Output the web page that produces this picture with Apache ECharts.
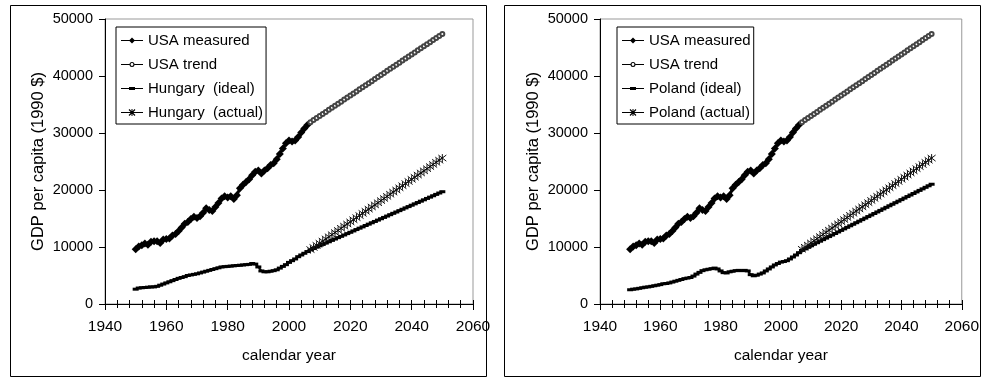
<!DOCTYPE html>
<html>
<head>
<meta charset="utf-8">
<title>GDP per capita</title>
<script src="https://cdn.jsdelivr.net/npm/echarts@6/dist/echarts.min.js"></script>
<style>
  html, body { margin: 0; padding: 0; background: #fff; }
  #gdpCharts { width: 982px; height: 381px; }
</style>
</head>
<body>
<div id="gdpCharts"></div>
<script>
// measured years 1950..2006, projection years 2007..2050
const histStart = 1950
const projStart = 2007

const usaMeasured = [9600, 10100, 10300, 10600, 10400, 10900, 11000, 11000, 10700, 11300,
  11400, 11500, 12000, 12300, 12800, 13400, 14100, 14400, 14900, 15300,
  15100, 15400, 16000, 16800, 16500, 16300, 17000, 17700, 18500, 18900,
  18700, 18900, 18400, 19100, 20300, 20900, 21400, 21900, 22600, 23200,
  23400, 22900, 23400, 23800, 24400, 24700, 25400, 26300, 27300, 28200,
  28700, 28500, 28700, 29300, 30100, 30800, 31400]

const usaTrend = [31900, 32260, 32620, 32980, 33340, 33700, 34060, 34420, 34780, 35140,
  35500, 35860, 36220, 36580, 36940, 37300, 37660, 38020, 38380, 38740,
  39100, 39460, 39820, 40180, 40540, 40900, 41260, 41620, 41980, 42340,
  42700, 43060, 43420, 43780, 44140, 44500, 44860, 45220, 45580, 45940,
  46300, 46660, 47020, 47380]

const hungaryHist = [2600, 2800, 2850, 2900, 2950, 3000, 3000, 3100, 3300, 3500,
  3700, 3900, 4100, 4300, 4500, 4650, 4800, 5000, 5100, 5200,
  5300, 5450, 5600, 5750, 5900, 6050, 6200, 6350, 6500, 6550,
  6600, 6650, 6700, 6750, 6800, 6850, 6900, 6950, 7100, 7000,
  6500, 5800, 5650, 5650, 5750, 5850, 6000, 6300, 6600, 6900,
  7300, 7600, 7900, 8300, 8600, 8900, 9200]

const hungaryIdeal = [9500, 9740, 9970, 10210, 10450, 10690, 10920, 11160, 11400, 11640,
  11870, 12110, 12350, 12580, 12820, 13060, 13300, 13530, 13770, 14010,
  14250, 14480, 14720, 14960, 15190, 15430, 15670, 15910, 16140, 16380,
  16620, 16860, 17090, 17330, 17570, 17800, 18040, 18280, 18520, 18750,
  18990, 19230, 19470, 19700]

const hungaryActual = [9550, 9920, 10300, 10670, 11040, 11420, 11790, 12160, 12540, 12910,
  13280, 13660, 14030, 14400, 14780, 15150, 15520, 15900, 16270, 16640,
  17020, 17390, 17760, 18140, 18510, 18880, 19260, 19630, 20000, 20380,
  20750, 21120, 21500, 21870, 22240, 22620, 22990, 23360, 23740, 24110,
  24480, 24860, 25230, 25600]

const polandHist = [2500, 2600, 2650, 2750, 2850, 2950, 3000, 3100, 3200, 3300,
  3400, 3550, 3600, 3700, 3850, 4000, 4150, 4300, 4450, 4550,
  4650, 4900, 5250, 5550, 5850, 6000, 6100, 6200, 6300, 6150,
  5800, 5500, 5450, 5650, 5750, 5850, 5900, 5850, 5900, 5800,
  5150, 4950, 5050, 5250, 5450, 5800, 6150, 6500, 6850, 7100,
  7350, 7450, 7600, 7900, 8250, 8600, 9000]

const polandIdeal = [9400, 9670, 9940, 10210, 10480, 10750, 11020, 11290, 11560, 11830,
  12100, 12370, 12640, 12910, 13180, 13450, 13720, 13990, 14260, 14530,
  14800, 15070, 15340, 15610, 15880, 16150, 16420, 16690, 16960, 17230,
  17500, 17770, 18040, 18310, 18580, 18850, 19120, 19390, 19660, 19930,
  20200, 20470, 20740, 21010]

const polandActual = [9600, 9970, 10340, 10720, 11090, 11460, 11830, 12200, 12580, 12950,
  13320, 13690, 14060, 14440, 14810, 15180, 15550, 15920, 16300, 16670,
  17040, 17410, 17780, 18160, 18530, 18900, 19270, 19640, 20020, 20390,
  20760, 21130, 21500, 21880, 22250, 22620, 22990, 23360, 23740, 24110,
  24480, 24850, 25220, 25600]

const font = "'Liberation Sans', Arial, sans-serif"

// pair values with their years
function withYears(values, start) {
  return values.map((v, i) => [start + i, v])
}

// legend icons: line + marker, all filled shapes in a 22x8 box
const icons = {
  measured: 'path://M0,3.5h22v1h-22zM11,1L14,4L11,7L8,4z',
  trend: 'path://M0,3.5h8.5v1h-8.5zM13.5,3.5h8.5v1h-8.5zM8.5,4a2.5,2.5 0 1,1 5,0a2.5,2.5 0 1,1 -5,0zM9.6,4a1.4,1.4 0 1,0 2.8,0a1.4,1.4 0 1,0 -2.8,0z',
  ideal: 'path://M0,3.5h22v1h-22zM8,2.5h6v3h-6z',
  actual: 'path://M0,3.5h22v1h-22zM10.5,0.5h1v7h-1zM7.6,1.4L8.4,0.6L14.4,6.6L13.6,7.4zM13.6,0.6L14.4,1.4L8.4,7.4L7.6,6.6z'
}
const asterisk = 'path://M-1,-1L1,1M-1,1L1,-1M0,-1.3L0,1.3'

function legendFor(left, names) {
  const kinds = ['measured', 'trend', 'ideal', 'actual']
  return {
    left: left,
    top: 27,
    orient: 'vertical',
    itemWidth: 22,
    itemHeight: 8,
    itemGap: 7,
    padding: [5, 3, 3, 5],
    borderColor: '#000',
    borderWidth: 1,
    backgroundColor: '#fff',
    selectedMode: false,
    textStyle: { fontFamily: font, fontSize: 15, color: '#000', lineHeight: 17 },
    data: names.map((n, i) => ({
      name: n,
      icon: icons[kinds[i]],
      itemStyle: { color: '#000', borderWidth: 0 }
    }))
  }
}

function xAxisFor(grid) {
  return [
    {
      type: 'value', gridIndex: grid, min: 1940, max: 2060, interval: 20,
      name: 'calendar year', nameLocation: 'middle', nameGap: 44,
      nameTextStyle: { fontFamily: font, fontSize: 15.5, color: '#000' },
      axisLine: { lineStyle: { color: '#000', width: 1 } },
      axisTick: { length: 6, lineStyle: { color: '#000' } },
      minorTick: { show: true, splitNumber: 5, length: 4, lineStyle: { color: '#000' } },
      axisLabel: { fontFamily: font, fontSize: 15.5, color: '#000', margin: 15, formatter: v => String(v) },
      splitLine: { show: false }
    },
    {
      // inner half of the crossing ticks
      type: 'value', gridIndex: grid, min: 1940, max: 2060, interval: 20, position: 'bottom',
      axisLine: { show: false },
      axisTick: { inside: true, length: 4, lineStyle: { color: '#000' } },
      minorTick: { show: true, splitNumber: 5, length: 4, lineStyle: { color: '#000' } },
      axisLabel: { show: false },
      splitLine: { show: false }
    }
  ]
}

function yAxisFor(grid) {
  return {
    type: 'value', gridIndex: grid, min: 0, max: 50000, interval: 10000,
    name: 'GDP per capita (1990 $)', nameLocation: 'middle', nameGap: 58,
    nameTextStyle: { fontFamily: font, fontSize: 16.5, color: '#000' },
    axisLine: { show: true, lineStyle: { color: '#000', width: 1 } },
    axisTick: { show: true, length: 6, lineStyle: { color: '#000' } },
    axisLabel: { fontFamily: font, fontSize: 14.5, color: '#000', margin: 12, formatter: v => String(v) },
    splitLine: { show: false }
  }
}

function seriesFor(xIdx, yIdx, country, hist, ideal, actual) {
  return [
    {
      name: 'USA measured', type: 'line', xAxisIndex: xIdx, yAxisIndex: yIdx,
      data: withYears(usaMeasured, histStart),
      symbol: 'diamond', symbolSize: 8,
      lineStyle: { color: '#000', width: 3 },
      itemStyle: { color: '#000', borderWidth: 0 }
    },
    {
      name: 'USA trend', type: 'line', xAxisIndex: xIdx, yAxisIndex: yIdx,
      data: withYears(usaTrend, projStart),
      symbol: 'emptyCircle', symbolSize: 4,
      lineStyle: { color: '#000', width: 1 },
      itemStyle: { color: '#444', borderColor: '#444', borderWidth: 0.7 }
    },
    {
      name: country + ' (ideal)', type: 'line', xAxisIndex: xIdx, yAxisIndex: yIdx,
      data: withYears(hist, histStart).concat(withYears(ideal, projStart)),
      symbol: 'rect', symbolSize: [6, 3],
      lineStyle: { color: '#000', width: 2 },
      itemStyle: { color: '#000', borderWidth: 0 }
    },
    {
      name: country + ' (actual)', type: 'line', xAxisIndex: xIdx, yAxisIndex: yIdx,
      data: withYears(actual, projStart),
      symbol: asterisk, symbolSize: 8,
      lineStyle: { color: '#000', width: 1 },
      itemStyle: { color: 'none', borderColor: '#111', borderWidth: 1 }
    }
  ]
}

const chart = echarts.init(document.getElementById('gdpCharts'))

const leftSeries = seriesFor(0, 0, 'Hungary ', hungaryHist, hungaryIdeal, hungaryActual)
const rightSeries = seriesFor(2, 1, 'Poland', polandHist, polandIdeal, polandActual)

chart.setOption({
  animation: false,
  backgroundColor: '#fff',
  textStyle: { fontFamily: font },
  graphic: [
    // outer frames of the two panels
    { type: 'rect', z: 100, shape: { x: 10.5, y: 5.5, width: 476, height: 371 }, style: { fill: 'none', stroke: '#000', lineWidth: 1 }, silent: true },
    { type: 'rect', z: 100, shape: { x: 504.5, y: 5.5, width: 476, height: 371 }, style: { fill: 'none', stroke: '#000', lineWidth: 1 }, silent: true },
    // the right panel clips its last year label at the frame
    { type: 'rect', z: 99, shape: { x: 981, y: 300, width: 10, height: 60 }, style: { fill: '#fff' }, silent: true }
  ],
  grid: [
    { left: 105, top: 19, width: 368, height: 285, show: true, borderColor: '#999', borderWidth: 1, backgroundColor: '#fff' },
    { left: 600, top: 19, width: 369, height: 285, show: true, borderColor: '#999', borderWidth: 1, backgroundColor: '#fff' }
  ],
  legend: [
    legendFor(116, leftSeries.map(s => s.name)),
    legendFor(617, rightSeries.map(s => s.name))
  ],
  xAxis: xAxisFor(0).concat(xAxisFor(1)),
  yAxis: [yAxisFor(0), yAxisFor(1)],
  series: leftSeries.concat(rightSeries)
})
</script>
</body>
</html>
